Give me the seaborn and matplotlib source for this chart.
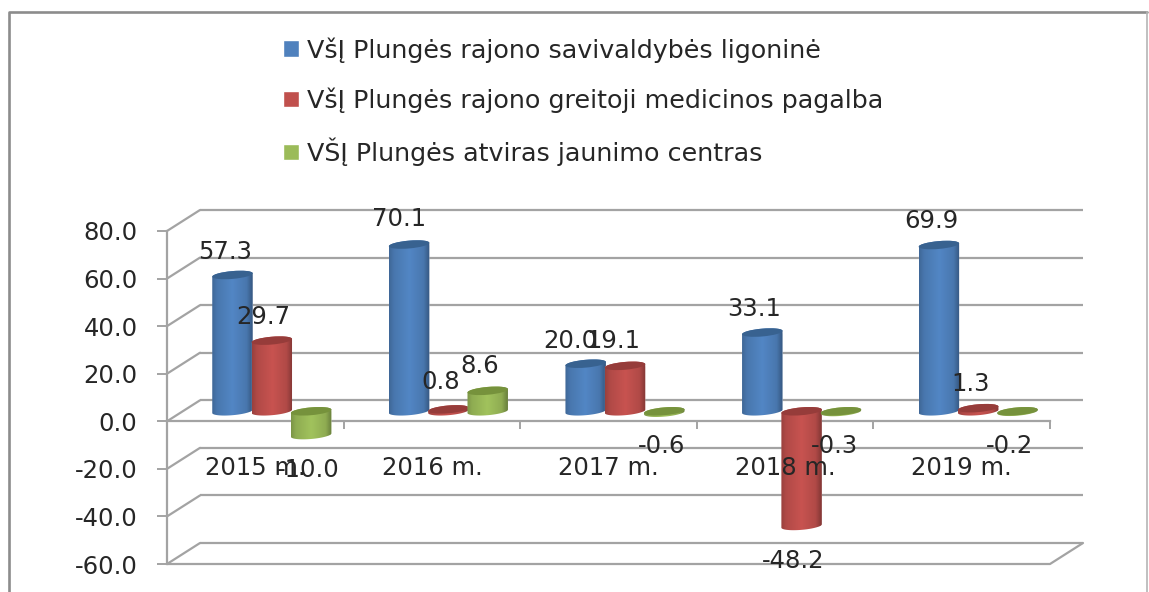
import numpy as np
import pandas as pd
import seaborn as sns
import matplotlib
matplotlib.use('Agg')
import matplotlib.pyplot as plt
from matplotlib.colors import to_rgb
from matplotlib.lines import Line2D
from matplotlib.patches import Ellipse
from matplotlib.path import Path
from matplotlib.transforms import Affine2D, IdentityTransform

years = ['2015 m.', '2016 m.', '2017 m.', '2018 m.', '2019 m.']
ligonine = [57.3, 70.1, 20.0, 33.1, 69.9]
greitoji = [29.7, 0.8, 19.1, -48.2, 1.3]
jaunimo = [-10.0, 8.6, -0.6, -0.3, -0.2]
series_names = ['VšĮ Plungės rajono savivaldybės ligoninė',
                'VšĮ Plungės rajono greitoji medicinos pagalba',
                'VŠĮ Plungės atviras jaunimo centras']
y_ticks = [-60, -40, -20, 0, 20, 40, 60, 80]

colors = ['#4F81BD', '#C0504D', '#9BBB59']
top_colors = ['#386290', '#963C3A', '#76923C']
GRID = '#a3a3a3'
TEXT = '#262626'
FONT = 17.5

# label offsets from the bar end, in pixels (right, up)
label_dx = [[-7, -10, -15, -8, -8], [-8, -8, -12, -8, -8], [-3, -8, -3, -6, -8]]
label_dy = [[23, 26, 23, 24, 24], [24, 27, 25, -35, 24], [-35, 25, -33, -34, -34]]

W, H = 1149, 592
sns.set_theme(style='white')
plt.rcParams['font.family'] = ['DejaVu Sans']

fig = plt.figure(figsize=(W / 100, H / 100), dpi=100, facecolor='white')
ax = fig.add_axes([167 / W, (H - 564) / H, 883 / W, 333 / H])

df = pd.DataFrame({'year': years * 3,
                   'value': ligonine + greitoji + jaunimo,
                   'org': np.repeat(series_names, 5)})

sns.barplot(data=df, x='year', y='value', hue='org', hue_order=series_names,
            palette=colors, saturation=1, width=0.668, gap=0, errorbar=None, ax=ax)

ax.set_xlim(-0.5, 4.5)
ax.set_ylim(-60, 80)
ax.set_xlabel('')
ax.set_ylabel('')
ax.patch.set_alpha(0)

# back wall and floor of the fake 3D box
depth_x = 33 / 176.6
depth_y = 21 / 2.379
for t in y_ticks:
    ax.hlines(t + depth_y, -0.5 + depth_x, 4.5 + depth_x, color=GRID, lw=1.6, zorder=1, clip_on=False)
    ax.plot([-0.5, -0.5 + depth_x], [t, t + depth_y], color=GRID, lw=1.6, zorder=1, clip_on=False)
ax.plot([-0.5, 4.5, 4.5 + depth_x], [-60, -60, -60 + depth_y], color=GRID, lw=1.6, zorder=1, clip_on=False)

# axes
for s in ['top', 'right']:
    ax.spines[s].set_visible(False)
ax.spines['left'].set_color(GRID)
ax.spines['left'].set_linewidth(1.6)
ax.spines['bottom'].set_color(GRID)
ax.spines['bottom'].set_linewidth(1.6)
ax.spines['bottom'].set_position(('data', 0))
ax.spines['bottom'].set_zorder(2)
ax.set_yticks(y_ticks)
ax.set_yticklabels([f'{t:.1f}' for t in y_ticks])
ax.set_xticks(np.arange(-0.5, 5), minor=True)
ax.tick_params(axis='y', length=7.2, width=1.4, color=GRID, pad=14, labelsize=FONT, labelcolor=TEXT, left=True)
ax.tick_params(axis='x', which='major', length=0, pad=25, labelsize=FONT, labelcolor=TEXT)
ax.tick_params(axis='x', which='minor', length=5.8, width=1.4, color=GRID, bottom=True)
ax.xaxis.set_zorder(8)
ax.yaxis.set_zorder(8)

# turn the flat bars into cylinders, shifted back into the box
shift_x, shift_y = 16.5, 10
shift = ax.transData + Affine2D().translate(shift_x, shift_y)
half_w, half_h, tilt = 20.3, 3.9, np.radians(5)
stops = [0, 0.12, 0.5, 0.85, 1]
shades = [0.8, 0.92, 1.04, 0.92, 0.68]


def arc(cx, cy, t0, t1):
    t = np.linspace(t0, t1, 40)
    ex, ey = half_w * np.cos(t), half_h * np.sin(t)
    return np.column_stack([cx + ex * np.cos(tilt) - ey * np.sin(tilt),
                            cy + ex * np.sin(tilt) + ey * np.cos(tilt)])


for k, container in enumerate(ax.containers):
    rgb = np.array(to_rgb(colors[k]))
    pos = np.linspace(0, 1, 64)
    grad = np.clip(np.interp(pos, stops, shades)[:, None] * rgb, 0, 1)[None, :, :]
    for i, bar in enumerate(container.patches):
        value = bar.get_height() + bar.get_y()
        mid = bar.get_x() + bar.get_width() / 2
        cx, y_zero = shift.transform((mid, 0))
        _, y_end = shift.transform((mid, value))
        y_low, y_high = min(y_zero, y_end), max(y_zero, y_end)
        outline = np.vstack([arc(cx, y_low, np.pi, 2 * np.pi), arc(cx, y_high, 0, np.pi)])
        outline = Path(np.vstack([outline, outline[0]]), closed=True)

        bar.set_transform(shift)
        bar.set_zorder(3 + k)
        bar.set_clip_path(outline, IdentityTransform())

        im = ax.imshow(grad, extent=(cx - half_w, cx + half_w, y_low - 8, y_high + 8), aspect='auto',
                       transform=IdentityTransform(), interpolation='bilinear', zorder=3 + k)
        im.set_clip_path(outline, IdentityTransform())
        ax.add_patch(Ellipse((cx, y_high), 2 * half_w, 2 * half_h, angle=5, facecolor=top_colors[k],
                             edgecolor='none', transform=IdentityTransform(), zorder=3 + k))

        ax.annotate(f'{value:.1f}', xy=(cx, y_end), xycoords=IdentityTransform(),
                    xytext=(label_dx[k][i], label_dy[k][i]), textcoords='offset pixels',
                    ha='center', va='center', fontsize=FONT, color=TEXT, zorder=10,
                    annotation_clip=False)

ax.set_xlim(-0.5, 4.5)
ax.set_ylim(-60, 80)

sns.move_legend(ax, loc='center left', bbox_to_anchor=(283 / W, 1 - 101.5 / H),
                bbox_transform=fig.transFigure, frameon=False, title=None, fontsize=18.3,
                handlelength=0.63, handleheight=0.62, handletextpad=0.32, labelspacing=0.97,
                labelcolor=TEXT, borderpad=0, borderaxespad=0)

# chart frame, runs off the bottom of the picture
fig.add_artist(Line2D([9 / W, 9 / W, 1147 / W], [0, 1 - 11.5 / H, 1 - 11.5 / H], color='#8c8c8c', lw=1.9))
fig.add_artist(Line2D([1147 / W, 1147 / W], [0, 1 - 11.5 / H], color='#b5b5b5', lw=1.2))

plt.savefig('out.png', dpi=100)
plt.close()
